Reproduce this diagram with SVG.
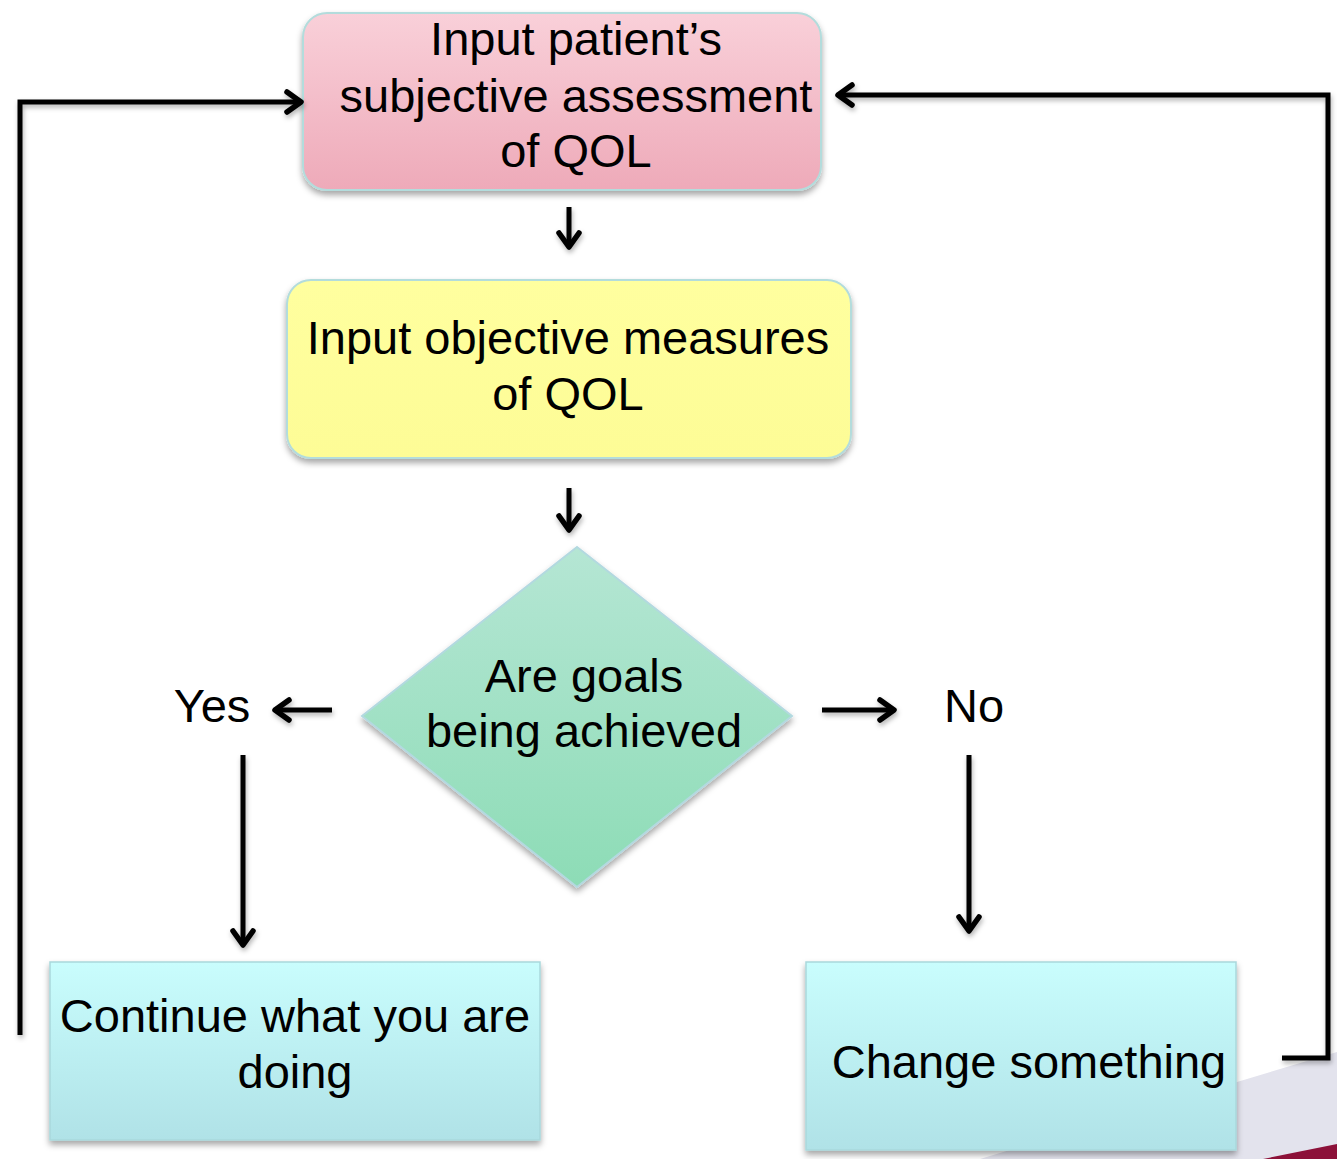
<svg xmlns="http://www.w3.org/2000/svg" width="1337" height="1159" viewBox="0 0 1337 1159">
<defs>
<linearGradient id="gPink" x1="0" y1="0" x2="0" y2="1"><stop offset="0" stop-color="#f9d0d9"/><stop offset="1" stop-color="#eeaab9"/></linearGradient>
<linearGradient id="gYellow" x1="0" y1="0" x2="0" y2="1"><stop offset="0" stop-color="#ffff9f"/><stop offset="1" stop-color="#fdfc96"/></linearGradient>
<linearGradient id="gGreen" x1="0" y1="0" x2="0" y2="1"><stop offset="0" stop-color="#b5e6d4"/><stop offset="1" stop-color="#8ddcb6"/></linearGradient>
<linearGradient id="gCyan" x1="0" y1="0" x2="0" y2="1"><stop offset="0" stop-color="#c9fdfd"/><stop offset="1" stop-color="#b0e2e7"/></linearGradient>
<filter id="sh" x="-10%" y="-10%" width="120%" height="130%"><feDropShadow dx="0" dy="4" stdDeviation="3" flood-color="#000" flood-opacity="0.35"/></filter>
<filter id="lsh" x="-20%" y="-50%" width="140%" height="200%"><feDropShadow dx="1" dy="3" stdDeviation="2.5" flood-color="#000" flood-opacity="0.3"/></filter>
<marker id="ah" markerUnits="userSpaceOnUse" markerWidth="24" markerHeight="28" viewBox="0 0 24 28" refX="19" refY="14" orient="auto">
<path d="M5,4 L19,14 L5,24" fill="none" stroke="#000" stroke-width="5.5" stroke-linecap="round" stroke-linejoin="round"/>
</marker>
<style>
.t{font-family:"Liberation Sans",Arial,sans-serif;font-size:47px;fill:#000;text-anchor:middle}
.c{fill:none;stroke:#000;stroke-width:5;marker-end:url(#ah)}
</style>
</defs>
<rect width="1337" height="1159" fill="#fff"/>
<g id="background">
<polygon points="980,1159 1237,1082 1337,1052 1337,1159" fill="#e3e3ed"/>
<polygon points="1263,1159 1337,1144 1337,1159" fill="#8c1139"/>
</g>
<g id="node-subjective">
<rect x="303" y="13" width="518" height="177" rx="24" fill="url(#gPink)" stroke="#b3dcdc" stroke-width="2" filter="url(#sh)"/>
<text class="t" x="576" y="55">Input patient’s</text>
<text class="t" x="576" y="112">subjective assessment</text>
<text class="t" x="576" y="167">of QOL</text>
</g>
<g id="node-objective">
<rect x="287" y="280" width="564" height="178" rx="24" fill="url(#gYellow)" stroke="#b3dcdc" stroke-width="2" filter="url(#sh)"/>
<text class="t" x="568" y="354">Input objective measures</text>
<text class="t" x="568" y="410">of QOL</text>
</g>
<g id="node-decision">
<polygon points="577,547 792,716 577,887 362,716" fill="url(#gGreen)" stroke="#b3d9e0" stroke-width="2" filter="url(#sh)"/>
<text class="t" x="584" y="692">Are goals</text>
<text class="t" x="584" y="747">being achieved</text>
</g>
<g id="label-yes"><text class="t" x="212" y="722">Yes</text></g>
<g id="label-no"><text class="t" x="974" y="722">No</text></g>
<g id="node-continue">
<rect x="50" y="962" width="490" height="178" fill="url(#gCyan)" stroke="#a9d8dc" stroke-width="1.5" filter="url(#sh)"/>
<text class="t" x="295" y="1032">Continue what you are</text>
<text class="t" x="295" y="1088">doing</text>
</g>
<g id="node-change">
<rect x="806" y="962" width="430" height="188" fill="url(#gCyan)" stroke="#a9d8dc" stroke-width="1.5" filter="url(#sh)"/>
<text class="t" x="1029" y="1078">Change something</text>
</g>
<g id="connectors" filter="url(#lsh)">
<line class="c" x1="569" y1="207" x2="569" y2="247"/>
<line class="c" x1="569" y1="488" x2="569" y2="530"/>
<line class="c" x1="332" y1="710" x2="275" y2="710"/>
<line class="c" x1="822" y1="710" x2="894" y2="710"/>
<line class="c" x1="243" y1="755" x2="243" y2="945"/>
<line class="c" x1="969" y1="755" x2="969" y2="931"/>
<polyline class="c" points="20,1035 20,102 301,102"/>
<polyline class="c" points="1282,1058 1328,1058 1328,95 838,95"/>
</g>
</svg>
